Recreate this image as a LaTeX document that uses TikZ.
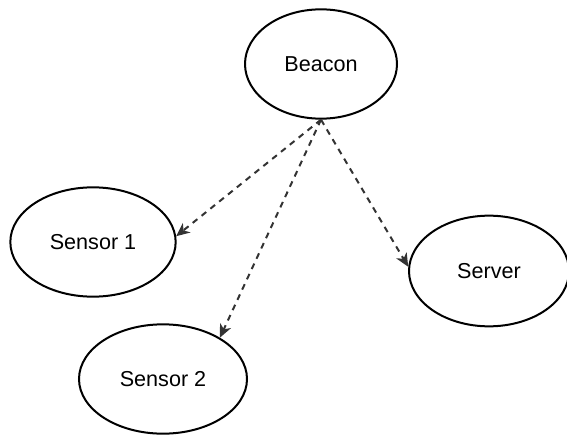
\documentclass[tikz,border=0pt]{standalone}
\usepackage{fontspec}
\setmainfont{Liberation Sans}
\usetikzlibrary{arrows.meta,shapes.geometric}
\begin{document}
\begin{tikzpicture}[x=0.75pt,y=-0.75pt,
  blob/.style={ellipse, draw=black, line width=1.5pt, fill=white,
    inner sep=0pt, font=\fontsize{16.2pt}{19pt}\selectfont},
  link/.style={draw={rgb,255:red,51;green,51;blue,51}, line width=1.5pt,
    dash pattern=on 4.5pt off 4pt,
    -{Stealth[length=10pt,width=9pt,inset=3pt]}}]
  \useasboundingbox (0,0) rectangle (567,435);
  \node[blob, minimum width=114pt, minimum height=82pt] (b) at (321,64) {Beacon};
  \node[blob, minimum width=124pt, minimum height=82pt] (s1) at (93,242) {Sensor 1};
  \node[blob, minimum width=126pt, minimum height=82pt] (s2) at (163,379) {Sensor 2};
  \node[blob, minimum width=120pt, minimum height=83pt] (sv) at (489,271) {Server};
  \draw[link] (b.south) -- (s1.4);
  \draw[link] (b.south) -- (s2.36);
  \draw[link] (b.south) -- (sv.177);
\end{tikzpicture}
\end{document}
